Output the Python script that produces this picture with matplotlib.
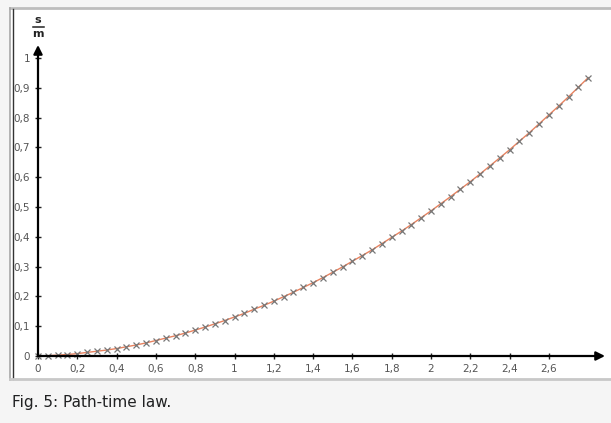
import matplotlib
matplotlib.use("Agg")
import matplotlib.pyplot as plt
from matplotlib.patches import Rectangle

# data (t in s, s in m)
t_values = [0.00, 0.05, 0.10, 0.15, 0.20, 0.25, 0.30, 0.35, 0.40, 0.45,
            0.50, 0.55, 0.60, 0.65, 0.70, 0.75, 0.80, 0.85, 0.90, 0.95,
            1.00, 1.05, 1.10, 1.15, 1.20, 1.25, 1.30, 1.35, 1.40, 1.45,
            1.50, 1.55, 1.60, 1.65, 1.70, 1.75, 1.80, 1.85, 1.90, 1.95,
            2.00, 2.05, 2.10, 2.15, 2.20, 2.25, 2.30, 2.35, 2.40, 2.45,
            2.50, 2.55, 2.60, 2.65, 2.70, 2.75, 2.80]
s_values = [0.000, 0.001, 0.003, 0.005, 0.008, 0.012, 0.016, 0.020, 0.025, 0.031,
            0.037, 0.044, 0.052, 0.060, 0.068, 0.077, 0.087, 0.097, 0.108, 0.119,
            0.131, 0.143, 0.157, 0.170, 0.184, 0.199, 0.214, 0.230, 0.246, 0.263,
            0.281, 0.299, 0.318, 0.337, 0.356, 0.377, 0.398, 0.419, 0.441, 0.464,
            0.487, 0.511, 0.535, 0.560, 0.585, 0.611, 0.638, 0.665, 0.692, 0.721,
            0.749, 0.779, 0.809, 0.839, 0.870, 0.902, 0.934]
x_ticks = [0.0, 0.2, 0.4, 0.6, 0.8, 1.0, 1.2, 1.4, 1.6, 1.8, 2.0, 2.2, 2.4, 2.6]
x_tick_labels = ["0", "0,2", "0,4", "0,6", "0,8", "1", "1,2", "1,4", "1,6", "1,8",
                 "2", "2,2", "2,4", "2,6"]
y_ticks = [0.0, 0.1, 0.2, 0.3, 0.4, 0.5, 0.6, 0.7, 0.8, 0.9, 1.0]
y_tick_labels = ["0", "0,1", "0,2", "0,3", "0,4", "0,5", "0,6", "0,7", "0,8", "0,9", "1"]
caption = "Fig. 5: Path-time law."

W, H = 611, 423
fig = plt.figure(figsize=(W / 100, H / 100), dpi=100, facecolor="#f5f5f5")

# background / frame axes in pixel coordinates
bg = fig.add_axes([0, 0, 1, 1])
bg.set_xlim(0, W)
bg.set_ylim(H, 0)
bg.axis("off")
bg.add_patch(Rectangle((10, 8), W - 10, 371, facecolor="white", edgecolor="none"))
bg.plot([10, W], [8, 8], color="#bdbdbd", lw=2.0)
bg.plot([10, 10], [8, 380], color="#a8a8a8", lw=1.2)
bg.plot([12.5, 12.5], [9, 379], color="#333333", lw=1.0)
bg.plot([10, W], [379.5, 379.5], color="#c8c8c8", lw=2.0)
bg.text(12, 402, caption, fontsize=11, color="#202122", va="center", ha="left",
        family="DejaVu Sans")
# y-axis unit label s/m
bg.text(38, 20, "s", fontsize=8, fontweight="bold", ha="center", va="center", color="#222222")
bg.plot([32.5, 43.5], [27, 27], color="#222222", lw=1.1)
bg.text(38, 34, "m", fontsize=8, fontweight="bold", ha="center", va="center", color="#222222")

# data axes: x=0 at px 38 (196.5 px/unit), y=0 at px 356 (298 px/unit)
x0, xend = 38, 605
y0, yend = 356, 45
xs, ys = 196.5, 298.0
ax = fig.add_axes([x0 / W, (H - y0) / H, (xend - x0) / W, (y0 - yend) / H])
ax.set_xlim(0, (xend - x0) / xs)
ax.set_ylim(0, (y0 - yend) / ys)
ax.patch.set_alpha(0)
for sp in ax.spines.values():
    sp.set_visible(False)

ax.plot(t_values, s_values, color="#e8825f", lw=1.0, zorder=2, clip_on=False)
ax.plot(t_values, s_values, ls="none", marker="x", ms=4.0, mew=0.9, color="#777777",
        zorder=3, clip_on=False)

ax.set_xticks(x_ticks)
ax.set_xticklabels(x_tick_labels)
ax.set_yticks(y_ticks)
ax.set_yticklabels(y_tick_labels)
ax.tick_params(axis="both", direction="inout", length=5, width=1.0, color="#222222",
               labelsize=7.5, labelcolor="#555555", pad=3)

ax.annotate("", xy=(1, 0), xytext=(0, 0), xycoords="axes fraction",
            arrowprops=dict(arrowstyle="-|>", lw=1.6, color="black", mutation_scale=13,
                            shrinkA=0, shrinkB=0), annotation_clip=False)
ax.annotate("", xy=(0, 1), xytext=(0, 0), xycoords="axes fraction",
            arrowprops=dict(arrowstyle="-|>", lw=1.6, color="black", mutation_scale=13,
                            shrinkA=0, shrinkB=0), annotation_clip=False)

fig.savefig("out.png", dpi=100, facecolor=fig.get_facecolor())
